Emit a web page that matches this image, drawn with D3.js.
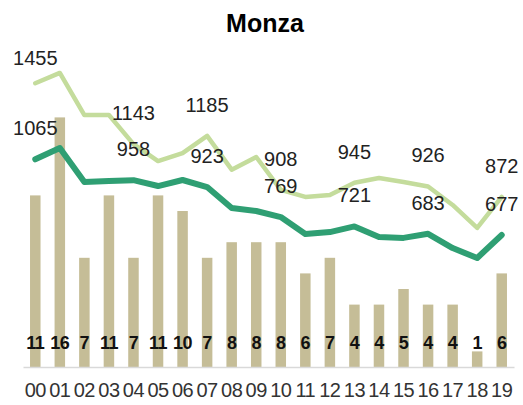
<!DOCTYPE html>
<html>
<head>
<meta charset="utf-8">
<script src="https://cdn.jsdelivr.net/npm/d3@7"></script>
<style>
  html, body { margin: 0; padding: 0; background: #fff; }
  svg { display: block; }
</style>
</head>
<body>
<svg id="chart" width="523" height="405"></svg>
<script>
// ---- data ----
const title = "Monza";
const categories = ["00","01","02","03","04","05","06","07","08","09","10","11","12","13","14","15","16","17","18","19"];
const barValues = [11,16,7,11,7,11,10,7,8,8,8,6,7,4,4,5,4,4,1,6];
const upperLine = [1455,1508,1292,1292,1143,1056,1097,1185,1012,1077,908,872,882,945,969,949,926,831,713,872];
const lowerLine = [1065,1123,949,954,958,928,959,923,815,800,769,682,692,721,667,662,683,610,559,677];
const labelIdx = [0,4,7,10,13,16,19];

// ---- layout ----
const svg = d3.select("#chart");
const plotLeft = 23, plotRight = 514, plotTop = 55, plotBottom = 367;

const x = d3.scaleBand().domain(categories).range([plotLeft, plotRight]).padding(0);
const yBar = d3.scaleLinear().domain([0, 20]).range([plotBottom, plotTop]);
const yLine = d3.scaleLinear().domain([0, 1600]).range([plotBottom, plotTop]);
const cx = c => x(c) + x.bandwidth() / 2;

const barColor = "#c5bd97";
const lightColor = "#c4dc9c";
const darkColor = "#2f9f73";
const font = "'Liberation Sans', Arial, sans-serif";

// title
svg.append("text")
  .attr("x", 265).attr("y", 32)
  .attr("text-anchor", "middle")
  .attr("font-family", font).attr("font-weight", "bold").attr("font-size", 25)
  .attr("fill", "#000")
  .text(title);

// bars
const bw = 10.5;
svg.append("g").selectAll("rect")
  .data(categories)
  .join("rect")
  .attr("x", (c) => cx(c) - bw / 2)
  .attr("width", bw)
  .attr("y", (c, i) => yBar(barValues[i]))
  .attr("height", (c, i) => plotBottom - yBar(barValues[i]))
  .attr("fill", barColor);

// axis
const xAxis = d3.axisBottom(x).tickSize(0).tickPadding(22);
const gx = svg.append("g").attr("transform", `translate(0,${plotBottom})`).call(xAxis);
gx.select(".domain").attr("stroke", "#d9d9d9").attr("stroke-width", 1.5);
gx.selectAll("text")
  .attr("font-family", font).attr("font-size", 20)
  .attr("fill", "#333").attr("dy", "0.4em")
  .attr("letter-spacing", -0.5);

// lines
const lineGen = arr => d3.line()
  .x((d, i) => cx(categories[i]))
  .y(d => yLine(d))(arr);

svg.append("path")
  .attr("d", lineGen(upperLine))
  .attr("fill", "none").attr("stroke", lightColor)
  .attr("stroke-width", 4.5).attr("stroke-linejoin", "round").attr("stroke-linecap", "round");

svg.append("path")
  .attr("d", lineGen(lowerLine))
  .attr("fill", "none").attr("stroke", darkColor)
  .attr("stroke-width", 6).attr("stroke-linejoin", "round").attr("stroke-linecap", "round");

// bar labels
svg.append("g").selectAll("text")
  .data(categories)
  .join("text")
  .attr("x", c => cx(c))
  .attr("y", 349)
  .attr("text-anchor", "middle")
  .attr("font-family", font).attr("font-weight", "bold").attr("font-size", 18)
  .attr("fill", "#111")
  .attr("letter-spacing", -0.5)
  .text((c, i) => barValues[i]);

// line labels
function addLabels(arr) {
  svg.append("g").selectAll("text")
    .data(labelIdx)
    .join("text")
    .attr("x", i => cx(categories[i]))
    .attr("y", i => Math.max(yLine(arr[i]) - 24, 65))
    .attr("text-anchor", "middle")
    .attr("font-family", font).attr("font-size", 20)
    .attr("fill", "#222")
    .text(i => arr[i]);
}
addLabels(upperLine);
addLabels(lowerLine);
</script>
</body>
</html>
